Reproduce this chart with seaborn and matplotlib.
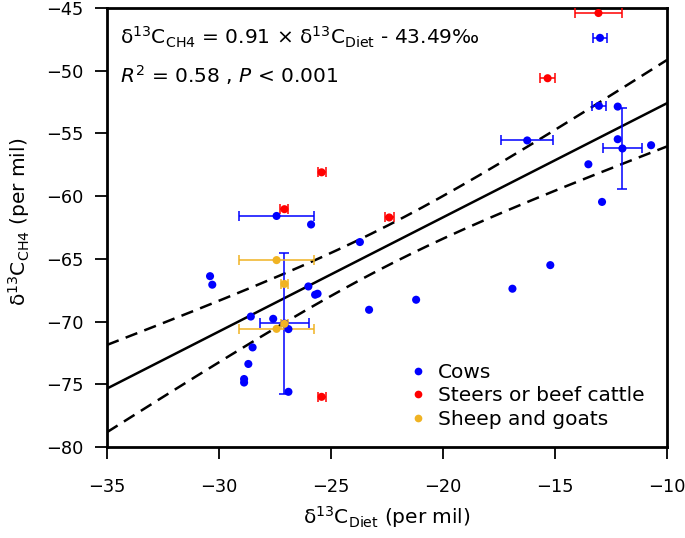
import matplotlib
matplotlib.use('Agg')

import matplotlib.pyplot as plt
import seaborn as sb
import numpy as np
import pandas as pd

# cows
cow_x = [-30.40, -30.30, -28.58, -27.58, -26.90, -27.08, -26.90, -27.43, -25.89, -23.71,
         -26.01, -25.71, -25.60, -23.30, -21.20, -28.50, -28.69, -28.88, -28.88,
         -12.99, -13.04, -12.20, -11.99, -12.20, -16.24, -10.71, -13.51, -12.90, -15.21, -16.90]
cow_y = [-66.38, -67.06, -69.60, -69.78, -70.60, -70.15, -75.60, -61.58, -62.26, -63.66,
         -67.20, -67.86, -67.78, -69.06, -68.26, -72.06, -73.38, -74.58, -74.86,
         -47.38, -52.80, -52.86, -56.20, -55.46, -55.56, -55.94, -57.46, -60.46, -65.50, -67.38]
cow_xerr = [0, 0, 0, 0, 0, 1.08, 0, 1.67, 0, 0,
            0, 0, 0, 0, 0, 0, 0, 0, 0,
            0.33, 0.32, 0, 0.88, 0, 1.17, 0, 0, 0, 0, 0]
cow_yerr = [0, 0, 0, 0, 0, 5.6, 0, 0, 0, 0,
            0, 0, 0, 0, 0, 0, 0, 0, 0,
            0, 0, 0, 3.24, 0, 0, 0, 0, 0, 0, 0]

# steers or beef cattle
steer_x = [-13.06, -15.33, -25.42, -27.08, -22.40, -25.42]
steer_y = [-45.40, -50.60, -58.10, -61.04, -61.70, -76.00]
steer_xerr = [1.03, 0.35, 0.18, 0.18, 0.20, 0.18]

# sheep and goats
sheep_x = [-27.43, -27.08, -27.08, -27.43]
sheep_y = [-65.10, -67.00, -70.18, -70.58]
sheep_xerr = [1.67, 0.15, 0.15, 1.67]

# reported fit
slope = 0.91
intercept = -43.49

groups = ['Cows', 'Steers or beef cattle', 'Sheep and goats']
colors = {'Cows': '#0000FF', 'Steers or beef cattle': '#FF0000', 'Sheep and goats': '#F0B323'}

df = pd.concat([
    pd.DataFrame({'x': cow_x, 'y': cow_y, 'xerr': cow_xerr, 'yerr': cow_yerr, 'group': 'Cows'}),
    pd.DataFrame({'x': steer_x, 'y': steer_y, 'xerr': steer_xerr, 'yerr': 0.0, 'group': 'Steers or beef cattle'}),
    pd.DataFrame({'x': sheep_x, 'y': sheep_y, 'xerr': sheep_xerr, 'yerr': 0.0, 'group': 'Sheep and goats'}),
], ignore_index=True)

sb.set_style('ticks')
plt.rcParams['font.family'] = ['DejaVu Sans']
plt.rcParams['mathtext.fontset'] = 'dejavusans'
plt.rcParams['text.color'] = 'black'
plt.rcParams['axes.labelcolor'] = 'black'
plt.rcParams['xtick.color'] = 'black'
plt.rcParams['ytick.color'] = 'black'

fig = plt.figure(figsize=(6.85, 5.38), dpi=100)
ax = fig.add_axes([107/685, 1-447/538, 560/685, 439/538])

# regression line and 95% confidence band
xs = np.linspace(-35, -10, 200)
yfit = slope*xs + intercept
n = len(df)
resid = df['y'] - (slope*df['x'] + intercept)
s = np.sqrt((resid**2).sum()/(n-2))
xbar = df['x'].mean()
sxx = ((df['x']-xbar)**2).sum()
hw = 2.02*s*np.sqrt(1/n + (xs-xbar)**2/sxx)

sb.lineplot(x=xs, y=yfit, color='black', lw=1.8, ax=ax, zorder=2)
sb.lineplot(x=xs, y=yfit+hw, color='black', lw=1.8, ax=ax, zorder=2, linestyle=(0, (5, 3)))
sb.lineplot(x=xs, y=yfit-hw, color='black', lw=1.8, ax=ax, zorder=2, linestyle=(0, (5, 3)))

# error bars
for g in groups:
    d = df[(df['group'] == g) & ((df['xerr'] > 0) | (df['yerr'] > 0))]
    for _, r in d.iterrows():
        ax.errorbar(r['x'], r['y'],
                    xerr=r['xerr'] if r['xerr'] > 0 else None,
                    yerr=r['yerr'] if r['yerr'] > 0 else None,
                    fmt='none', ecolor=colors[g], elinewidth=1.1, capsize=3.5,
                    capthick=1.1, zorder=3)

sb.scatterplot(data=df, x='x', y='y', hue='group', hue_order=groups, palette=colors,
               s=34, edgecolor='none', ax=ax, zorder=4)

ax.set_xlim(-35, -10)
ax.set_ylim(-80, -45)
ax.set_xticks([-35, -30, -25, -20, -15, -10])
ax.set_yticks([-80, -75, -70, -65, -60, -55, -50, -45])
ax.tick_params(direction='out', length=8.6, width=1.3, labelsize=12.8, colors='black')
ax.tick_params(axis='x', pad=13.5)
ax.tick_params(axis='y', pad=8.5)
for sp in ax.spines.values():
    sp.set_visible(True)
    sp.set_linewidth(2.0)
    sp.set_color('black')

ax.set_xlabel('δ$^{13}$C$_{\\rm Diet}$ (per mil)', fontsize=14.5, va='top', color='black')
ax.set_ylabel('δ$^{13}$C$_{\\rm CH4}$ (per mil)', fontsize=14.5, color='black')
ax.xaxis.set_label_coords(0.5, -0.130)
ax.yaxis.set_label_coords(-0.134, 0.512)

ax.text((120-107)/560, (447-45)/439,
        'δ$^{13}$C$_{\\rm CH4}$ = 0.91 × δ$^{13}$C$_{\\rm Diet}$ - 43.49‰',
        transform=ax.transAxes, fontsize=14.5, va='baseline', ha='left', color='black')
ax.text((120-107)/560, (447-83)/439,
        '$R^2$ = 0.58 , $P$ < 0.001',
        transform=ax.transAxes, fontsize=14.5, va='baseline', ha='left', color='black')

leg = ax.legend(loc='upper left', bbox_to_anchor=((410-107)/560, (447-363)/439),
                frameon=False, fontsize=14.5, handlelength=0.8, handletextpad=0.6,
                labelspacing=0.22, borderaxespad=0, borderpad=0, markerscale=0.95)
for t in leg.get_texts():
    t.set_color('black')

fig.savefig('out.png', dpi=100)
